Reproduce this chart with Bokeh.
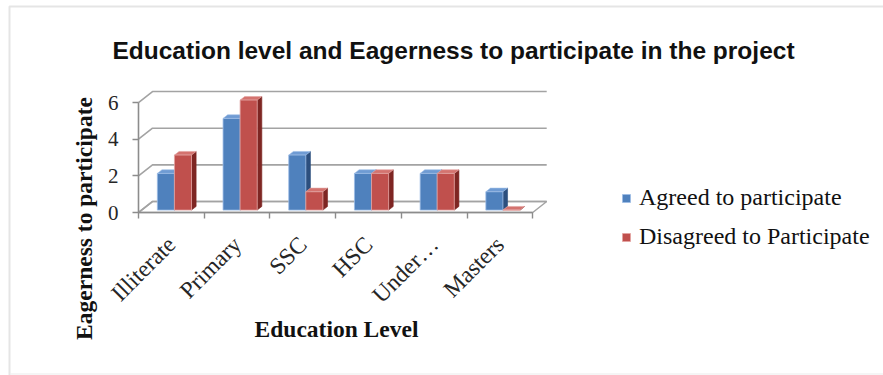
import math
from bokeh.plotting import figure
from bokeh.models import (ColumnDataSource, Range1d, FixedTicker, Legend, LegendItem,
                          Label, BoxAnnotation)
from bokeh.embed import file_html
from bokeh.resources import INLINE

# ---- data -------------------------------------------------------------
categories = ["Illiterate", "Primary", "SSC", "HSC", "Under…", "Masters"]
agreed = [2, 5, 3, 2, 2, 1]
disagreed = [3, 6, 1, 2, 2, 0]
y_ticks = [0, 2, 4, 6]
series_names = ["Agreed to participate", "Disagreed to Participate"]

# ---- layout -----------------------------------------------------------
W, H = 883, 375
ORIGIN_X, ORIGIN_Y = 138, 212    # canvas pixel of the axes corner (value 0, first category edge)
PX_X = 65.7                      # pixels per category
PX_Y = 18.33                     # pixels per value unit

# depth of the 3D box (floor / back wall offset), in data units
DX = 14 / PX_X
DY = 11 / PX_Y
BAR_W = 0.26                     # width of one bar, in categories
F0, F1 = 0.22, 0.55              # front / back of the bars inside the box depth

SERIF = "Liberation Serif"
SANS = "Liberation Sans"
GRID = "#a3a3a3"
AXIS = "#8c8c8c"

# the plotting frame fills the whole canvas; axes sit at fixed data positions
p = figure(width=W, height=H, output_backend="svg", toolbar_location=None, title=None,
           x_range=Range1d(-ORIGIN_X / PX_X, (W - ORIGIN_X) / PX_X),
           y_range=Range1d(-(H - ORIGIN_Y) / PX_Y, ORIGIN_Y / PX_Y),
           min_border=0)
p.outline_line_color = None
p.grid.visible = False
p.background_fill_color = "white"
p.border_fill_color = "white"


def sx(px):
    """canvas x pixel -> screen units measured from the frame's left edge"""
    return px


def sy(py):
    """canvas y pixel (from top) -> screen units measured from the frame's bottom"""
    return H - py


n = len(categories)

# ---- chart border -----------------------------------------------------
p.add_layout(BoxAnnotation(left=sx(9), right=sx(W + 10), top=sy(6), bottom=sy(H + 10),
                           left_units="screen", right_units="screen",
                           top_units="screen", bottom_units="screen",
                           fill_alpha=0, line_color="#a9a9a9", line_width=2))
p.add_layout(BoxAnnotation(left=sx(10), right=sx(W + 10), top=sy(373), bottom=sy(374),
                           left_units="screen", right_units="screen",
                           top_units="screen", bottom_units="screen",
                           fill_color="#ececec", fill_alpha=1, line_color=None))

# ---- floor and back-wall gridlines -----------------------------------
floor = ColumnDataSource(dict(xs=[[0, n, n + DX, DX]], ys=[[0, 0, DY, DY]]))
p.patches("xs", "ys", source=floor, fill_color="white", line_color=GRID, line_width=1.5)

grid_xs = [[0, DX, n + DX] for _ in y_ticks]
grid_ys = [[t, t + DY, t + DY] for t in y_ticks]
p.multi_line(grid_xs, grid_ys, line_color=GRID, line_width=1.6)

# ---- 3D bars ----------------------------------------------------------
ox, oy = F0 * DX, F0 * DY                 # shift of the bar front plane
bx, by = (F1 - F0) * DX, (F1 - F0) * DY   # bar depth


def bar_faces(values, offset):
    left, right, top, bottom = [], [], [], []
    top_xs, top_ys, side_xs, side_ys = [], [], [], []
    for i, v in enumerate(values):
        x0 = i + 0.5 + offset * BAR_W + ox
        x1 = x0 + BAR_W
        y0 = oy
        y1 = v + oy
        left.append(x0); right.append(x1); bottom.append(y0); top.append(y1)
        top_xs.append([x0, x1, x1 + bx, x0 + bx])
        top_ys.append([y1, y1, y1 + by, y1 + by])
        side_xs.append([x1, x1 + bx, x1 + bx, x1])
        side_ys.append([y0, y0 + by, y1 + by, y1])
    front = ColumnDataSource(dict(left=left, right=right, top=top, bottom=bottom))
    tops = ColumnDataSource(dict(xs=top_xs, ys=top_ys))
    sides = ColumnDataSource(dict(xs=side_xs, ys=side_ys))
    return front, tops, sides


styles = [
    dict(front="#4f81bd", top="#6f9bd3", side="#2c4f7e", edge="#9dbde6"),
    dict(front="#c0504d", top="#d4736f", side="#7e2623", edge="#e3a3a1"),
]

fronts = []
for values, offset, st in zip([agreed, disagreed], [-1, 0], styles):
    front, tops, sides = bar_faces(values, offset)
    p.patches("xs", "ys", source=sides, fill_color=st["side"], line_color=st["side"], line_width=0.6)
    p.patches("xs", "ys", source=tops, fill_color=st["top"], line_color=st["edge"], line_width=0.6)
    r = p.quad(left="left", right="right", top="top", bottom="bottom", source=front,
               fill_color=st["front"], line_color=st["edge"], line_width=0.8)
    fronts.append(r)

# ---- axes -------------------------------------------------------------
ya = p.yaxis[0]
ya.fixed_location = 0
ya.ticker = FixedTicker(ticks=y_ticks, minor_ticks=[])
ya.bounds = (y_ticks[0], y_ticks[-1])
ya.axis_line_color = AXIS
ya.axis_line_width = 1.6
ya.major_tick_line_color = AXIS
ya.major_tick_line_width = 1.4
ya.major_tick_out = 6
ya.major_tick_in = 0
ya.minor_tick_line_color = None
ya.major_label_standoff = 14
ya.major_label_text_font = SERIF
ya.major_label_text_font_size = "21px"
ya.major_label_text_color = "#262626"

centers = [i + 0.5 for i in range(n)]
xa = p.xaxis[0]
xa.fixed_location = 0
xa.ticker = FixedTicker(ticks=centers, minor_ticks=list(range(n + 1)))
xa.major_label_overrides = {c: name for c, name in zip(centers, categories)}
xa.bounds = (0, n)
xa.axis_line_color = AXIS
xa.axis_line_width = 1.6
xa.major_tick_out = 0
xa.major_tick_in = 0
xa.minor_tick_line_color = AXIS
xa.minor_tick_line_width = 1.4
xa.minor_tick_out = 6
xa.minor_tick_in = 0
xa.major_label_orientation = math.pi / 4
xa.major_label_standoff = 22
xa.major_label_text_font = SERIF
xa.major_label_text_font_size = "23.5px"
xa.major_label_text_color = "#262626"

# ---- titles -----------------------------------------------------------
p.add_layout(Label(x=sx(453), y=sy(49.5), x_units="screen", y_units="screen",
                   text="Education level and Eagerness to participate in the project",
                   text_font=SANS, text_font_style="bold", text_font_size="24.5px",
                   text_color="#111111", text_align="center", text_baseline="alphabetic"))

p.add_layout(Label(x=sx(83), y=sy(218), x_units="screen", y_units="screen",
                   text="Eagerness to participate", angle=math.pi / 2,
                   text_font=SERIF, text_font_style="bold", text_font_size="23.5px",
                   text_color="#111111", text_align="center", text_baseline="middle"))

p.add_layout(Label(x=sx(336), y=sy(328), x_units="screen", y_units="screen",
                   text="Education Level",
                   text_font=SERIF, text_font_style="bold", text_font_size="23.5px",
                   text_color="#111111", text_align="center", text_baseline="middle"))

# ---- legend -----------------------------------------------------------
legend = Legend(items=[LegendItem(label=series_names[0], renderers=[fronts[0]]),
                       LegendItem(label=series_names[1], renderers=[fronts[1]])],
                location=(sx(621), sy(250)),
                glyph_width=10, glyph_height=10, label_standoff=8, spacing=12,
                padding=0, margin=0, border_line_color=None, background_fill_alpha=0,
                label_text_font=SERIF, label_text_font_size="24px",
                label_text_color="#111111")
p.add_layout(legend)

open("out.html", "w").write(file_html(p, INLINE))
